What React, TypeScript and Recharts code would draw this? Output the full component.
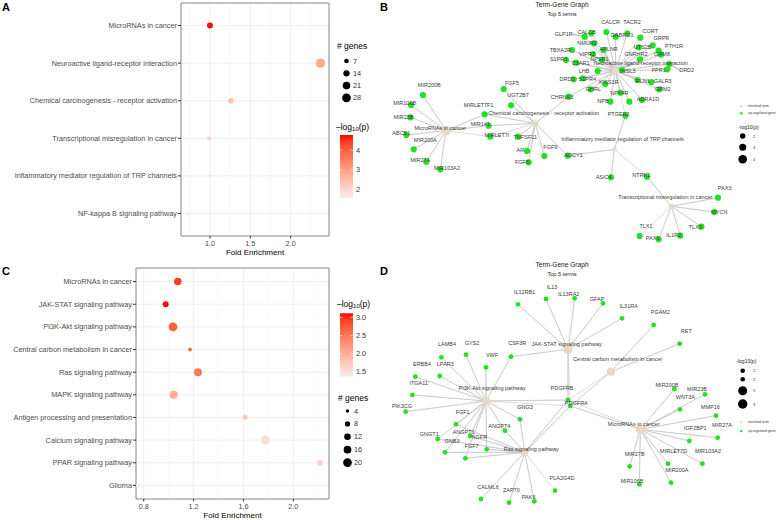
import { ScatterChart, Scatter, XAxis, YAxis, ZAxis, CartesianGrid, ReferenceLine, ReferenceArea, Cell } from 'recharts'

const FONT = '"Liberation Sans", Arial, sans-serif'
const GENE_GREEN = '#22e022'
const TERM_TAN = '#e6d9c5'
const LOW = '#f2eded'
const HIGH = '#ff0000'

// panel A: KEGG enrichment dot plot
const termsA = [
  'MicroRNAs in cancer',
  'Neuroactive ligand-receptor interaction',
  'Chemical carcinogenesis - receptor activation',
  'Transcriptional misregulation in cancer',
  'Inflammatory mediator regulation of TRP channels',
  'NF-kappa B signaling pathway',
]
const foldA = [1.0, 2.37, 1.26, 0.99, 1.0, 0.73]
const logPA = [4.75, 2.8, 2.35, 2.0, 1.65, 1.55]
const genesA = [13, 33, 11, 7, 4, 3]
const xTicksA = [1.0, 1.5, 2.0]
const xMinorA = [0.75, 1.25, 1.75, 2.25]
const sizeBreaksA = [7, 14, 21, 28]
const colorBreaksA = [2, 3, 4]

// panel C
const termsC = [
  'MicroRNAs in cancer',
  'JAK-STAT signaling pathway',
  'PI3K-Akt signaling pathway',
  'Central carbon metabolism in cancer',
  'Ras signaling pathway',
  'MAPK signaling pathway',
  'Antigen processing and presentation',
  'Calcium signaling pathway',
  'PPAR signaling pathway',
  'Glioma',
]
const foldC = [1.073, 0.976, 1.035, 1.171, 1.235, 1.04, 1.615, 1.773, 2.212, 0.75]
const logPC = [2.95, 3.1, 2.7, 2.6, 2.5, 2.0, 1.75, 1.55, 1.62, 1.4]
const genesC = [15, 10, 20, 5, 17, 18, 7, 22, 10, 4]
const xTicksC = [0.8, 1.2, 1.6, 2.0]
const xMinorC = [1.0, 1.4, 1.8, 2.2]
const sizeBreaksC = [4, 8, 12, 16, 20]
const colorBreaksC = [1.5, 2.0, 2.5, 3.0]

// panel B: term-gene network (layout units, 1176 x 780)
const hubB = [[162, 392], [670, 213], [430, 370], [838, 619], [667, 448]]
const hubLabelB = [[145, 383], [746, 188], [455, 340], [820, 590], [692, 418]]
const genesB: [string, number, number, number | null, number | null][] = [
  ['MIR200B', 93, 285, 112, 255], ['MIR106B', 57, 315, 38, 309], ['MIR23B', 55, 352, 35, 352],
  ['ABCB1', 43, 405, 28, 399], ['MIR200A', 65, 448, 100, 420], ['MIR27A', 103, 485, 85, 481],
  ['MIR103A2', 145, 508, 165, 504], ['MIRLET7F1', 278, 343, 260, 315], ['MIR141', 290, 377, 265, 372],
  ['MIRLET7I', 295, 410, 315, 404], ['FGF5', 335, 267, 360, 250], ['UGT2B7', 357, 316, 378, 286],
  ['CHRNA3', 530, 290, 510, 290], ['TNFSF11', 378, 410, 400, 412], ['AR', 405, 453, 385, 450],
  ['FGF8', 410, 487, 390, 485], ['FGF9', 457, 468, 475, 440], ['ADCY1', 527, 467, 545, 465],
  ['GLP1R', 578, 110, 515, 103], ['CALCB', 598, 100, 584, 97], ['CALCR', 643, 96, 656, 66],
  ['GABRG1', 671, 110, 690, 106], ['TACR2', 706, 100, 720, 67], ['CORT', 745, 113, 775, 92],
  ['GRPR', 782, 136, 808, 115], ['PTH1R', 800, 152, 846, 139], ['GRM8', 807, 164, 810, 163],
  ['UTS2B', 740, 142, 752, 140], ['GNRHR2', 744, 178, 732, 163], ['NMUR2', 606, 130, 585, 128],
  ['APLNR', 635, 150, 650, 147], ['TBXA2R', 540, 150, 505, 150], ['VIPR2', 603, 162, 585, 162],
  ['NPSR1', 630, 180, 622, 178], ['S1PR3', 522, 180, 500, 178], ['C3AR1', 552, 188, 566, 188],
  ['LHB', 617, 213, 576, 213], ['DRD5', 545, 238, 525, 238], ['S1PR4', 573, 235, 586, 238],
  ['INSL3', 690, 210, 708, 212], ['DRD2', 832, 192, 884, 210], ['FPR1', 826, 208, 800, 210],
  ['RLN1', 736, 240, 752, 243], ['GALR3', 778, 246, 812, 242], ['GRM2', 802, 268, 812, 268],
  ['KISS1R', 640, 252, 650, 246], ['GHRL', 596, 268, 604, 268], ['NPY4R', 685, 278, 682, 278],
  ['NPB', 655, 305, 633, 302], ['NPW', 712, 305, null, null], ['ADRA1D', 750, 300, 768, 298],
  ['PTGER2', 700, 347, 680, 342], ['ASIC4', 657, 532, 635, 530], ['NTRK1', 765, 530, 748, 525],
  ['PAX3', 978, 593, 998, 565], ['MYCN', 967, 636, 982, 635], ['TLX3', 928, 680, 910, 680],
  ['IL1R2', 865, 707, 845, 705], ['PAX5', 800, 718, 782, 713], ['TLX1', 743, 708, 762, 678],
]
const termGenesB = [
  ['MIR200B', 'MIR106B', 'MIR23B', 'ABCB1', 'MIR200A', 'MIR27A', 'MIR103A2', 'MIRLET7F1', 'MIR141', 'MIRLET7I'],
  ['GLP1R', 'CALCB', 'CALCR', 'GABRG1', 'TACR2', 'CORT', 'GRPR', 'PTH1R', 'GRM8', 'UTS2B', 'GNRHR2', 'NMUR2',
    'APLNR', 'TBXA2R', 'VIPR2', 'NPSR1', 'S1PR3', 'C3AR1', 'LHB', 'DRD5', 'S1PR4', 'INSL3', 'DRD2', 'FPR1',
    'RLN1', 'GALR3', 'GRM2', 'KISS1R', 'GHRL', 'NPY4R', 'NPB', 'NPW', 'ADRA1D', 'CHRNA3', 'PTGER2'],
  ['FGF5', 'UGT2B7', 'CHRNA3', 'TNFSF11', 'AR', 'FGF8', 'FGF9', 'ADCY1', 'MIRLET7F1', 'MIR141', 'MIRLET7I'],
  ['NTRK1', 'PAX3', 'MYCN', 'TLX3', 'IL1R2', 'PAX5', 'TLX1'],
  ['ADCY1', 'PTGER2', 'ASIC4', 'NTRK1'],
]
const leadersB = ['GLP1R', 'DRD2']

// panel D
const hubD = [[745, 508], [528, 268], [282, 423], [657, 335], [398, 577]]
const hubLabelD = [[725, 493], [524, 253], [300, 385], [677, 297], [418, 567]]
const genesD: [string, number, number, number | null, number | null][] = [
  ['IL12RB1', 378, 133, 398, 97], ['IL13', 462, 117, 480, 80], ['IL13RA2', 548, 115, 530, 103],
  ['GFAP', 633, 130, 615, 118], ['IL31RA', 690, 175, 710, 138], ['CSF3R', 357, 290, 376, 250],
  ['PDGFRB', 528, 420, 510, 385], ['PDGFRA', 535, 438, 553, 428], ['PGAM2', 785, 195, 805, 157],
  ['RET', 863, 251, 883, 213], ['LAMB4', 148, 292, 165, 253], ['GYS2', 222, 284, 240, 248],
  ['VWF', 282, 322, 300, 285], ['ERBB4', 70, 350, 90, 312], ['LPAR3', 143, 348, 160, 312],
  ['ITGA11', 61, 405, 80, 368], ['PIK3CG', 41, 455, 30, 438], ['FGF1', 192, 493, 212, 455],
  ['ANGPT1', 234, 528, 215, 515], ['NGFR', 284, 568, 262, 532], ['GNGT1', 137, 537, 112, 522],
  ['GNB3', 159, 577, 180, 543], ['FGF7', 220, 595, 239, 558], ['ANGPT4', 339, 512, 322, 498],
  ['GNG3', 384, 478, 399, 440], ['CALML6', 267, 717, 288, 680], ['ZAP70', 351, 728, 358, 690],
  ['PAK6', 427, 724, 410, 712], ['PLA2G4D', 489, 692, 510, 655], ['MIR200B', 847, 387, 825, 375],
  ['MIR23B', 939, 403, 915, 388], ['WNT3A', 864, 448, 880, 412], ['MMP16', 972, 467, 955, 440],
  ['MIR27A', 977, 533, 990, 495], ['IGF2BP1', 892, 543, 910, 505], ['MIR103A2', 931, 611, 948, 572],
  ['MIRLET7D', 828, 611, 845, 572], ['MIR200A', 837, 668, 855, 630], ['MIR27B', 713, 619, 728, 582],
  ['MIR106B', 742, 673, 720, 662],
]
const termGenesD = [
  ['MIR200B', 'MIR23B', 'WNT3A', 'MMP16', 'MIR27A', 'IGF2BP1', 'MIR103A2', 'MIRLET7D', 'MIR200A', 'MIR27B',
    'MIR106B', 'PDGFRA', 'PDGFRB'],
  ['IL12RB1', 'IL13', 'IL13RA2', 'GFAP', 'IL31RA', 'CSF3R', 'PDGFRB', 'PDGFRA'],
  ['LAMB4', 'GYS2', 'VWF', 'ERBB4', 'LPAR3', 'ITGA11', 'PIK3CG', 'CSF3R', 'FGF1', 'ANGPT1', 'NGFR', 'GNGT1',
    'GNB3', 'FGF7', 'ANGPT4', 'GNG3', 'PDGFRB', 'PDGFRA'],
  ['PGAM2', 'RET', 'PDGFRA', 'PDGFRB'],
  ['GNG3', 'ANGPT4', 'NGFR', 'FGF7', 'GNB3', 'GNGT1', 'FGF1', 'ANGPT1', 'PDGFRA', 'PDGFRB', 'CALML6', 'ZAP70',
    'PAK6', 'PLA2G4D'],
]

// colour ramp in Lab space, like ggplot's gradient
const hexRgb = (h: string) => [1, 3, 5].map((i) => parseInt(h.slice(i, i + 2), 16))
function toLab([r, g, b]: number[]) {
  const f = (c: number) => { c /= 255; return c <= 0.04045 ? c / 12.92 : Math.pow((c + 0.055) / 1.055, 2.4) }
  const R = f(r), G = f(g), B = f(b)
  const h = (t: number) => (t > 0.008856 ? Math.cbrt(t) : 7.787 * t + 16 / 116)
  const x = h((R * 0.4124 + G * 0.3576 + B * 0.1805) / 0.95047)
  const y = h(R * 0.2126 + G * 0.7152 + B * 0.0722)
  const z = h((R * 0.0193 + G * 0.1192 + B * 0.9505) / 1.08883)
  return [116 * y - 16, 500 * (x - y), 200 * (y - z)]
}
function fromLab([L, a, bb]: number[]) {
  const h = (t: number) => (t ** 3 > 0.008856 ? t ** 3 : (t - 16 / 116) / 7.787)
  const y0 = (L + 16) / 116
  const x = h(a / 500 + y0) * 0.95047, y = h(y0), z = h(y0 - bb / 200) * 1.08883
  const g = (c: number) => {
    c = c > 0.0031308 ? 1.055 * Math.pow(c, 1 / 2.4) - 0.055 : 12.92 * c
    return Math.round(Math.max(0, Math.min(1, c)) * 255)
  }
  return `rgb(${g(x * 3.2406 - y * 1.5372 - z * 0.4986)},${g(-x * 0.9689 + y * 1.8758 + z * 0.0415)},${g(x * 0.0557 - y * 0.204 + z * 1.057)})`
}
function ramp([lo, hi]: number[]) {
  const a = toLab(hexRgb(LOW)), b = toLab(hexRgb(HIGH))
  return (v: number) => {
    const t = Math.max(0, Math.min(1, (v - lo) / (hi - lo)))
    return fromLab(a.map((c, i) => c + (b[i] - c) * t))
  }
}
const areaOf = (z: number, dom: number[], rng: number[]) => rng[0] + ((z - dom[0]) / (dom[1] - dom[0])) * (rng[1] - rng[0])

function DotPlot({ terms, fold, logP, genes, xDomain, xTicks, xMinor, yWidth, top, xHeight, zDomain, zRange, cDomain }: any) {
  const rows = terms.map((term: string, i: number) => ({ term, row: i + 1, fold: fold[i], logP: logP[i], genes: genes[i] }))
  const color = ramp(cDomain)
  const yDomain = [0.4, terms.length + 0.6]
  return (
    <ScatterChart width={392} height={260} margin={{ top, right: 63, bottom: 0, left: 0 }}>
      <CartesianGrid stroke="#ebebeb" strokeWidth={0.8} />
      {xMinor.map((v: number) => <ReferenceLine key={v} x={v} stroke="#f2f2f2" strokeWidth={0.5} />)}
      <XAxis type="number" dataKey="fold" domain={xDomain} ticks={xTicks} allowDataOverflow interval={0}
        height={xHeight} axisLine={false} tickSize={2.5} tickMargin={1} tickLine={{ stroke: '#333' }}
        tick={(p: any) => (
          <text x={p.x} y={p.y + 3.5} textAnchor="middle" dominantBaseline="central" fontSize={7.3} fill="#4d4d4d">
            {Number(p.payload.value).toFixed(1)}
          </text>
        )} />
      <YAxis type="number" dataKey="row" domain={yDomain} reversed allowDataOverflow ticks={rows.map((r: any) => r.row)}
        interval={0} width={yWidth} axisLine={false} tickSize={3} tickMargin={1} tickLine={{ stroke: '#333' }}
        tick={(p: any) => (
          <text x={p.x} y={p.y} textAnchor="end" dominantBaseline="central" fontSize={7.3} fill="#4d4d4d">
            {terms[p.payload.value - 1]}
          </text>
        )} />
      <ZAxis type="number" dataKey="genes" domain={zDomain} range={zRange} />
      <ReferenceArea x1={xDomain[0]} x2={xDomain[1]} y1={yDomain[0]} y2={yDomain[1]} fill="none" stroke="#8c8c8c" strokeWidth={1} ifOverflow="visible" />
      <Scatter data={rows} isAnimationActive={false}>
        {rows.map((r: any) => <Cell key={r.term} fill={color(r.logP)} />)}
      </Scatter>
    </ScatterChart>
  )
}

function Network({ terms, hubs, hubLabels, logP, genes, termGenes, geneR, zDomain, zRange, leaders }: any) {
  const nodes = new Map<string, any>(genes.map(([name, x, y]: any) => [name, { name, x, y }]))
  const hubPts = terms.map((name: string, i: number) => ({ name, x: hubs[i][0], y: hubs[i][1], logP: logP[i] }))
  const labels = [
    ...terms.map((name: string, i: number) => ({ name, x: hubLabels[i][0], y: hubLabels[i][1] })),
    ...genes.filter((g: any) => g[3] != null).map(([name, , , lx, ly]: any) => ({ name, x: lx, y: ly })),
  ]
  const leaderSegs = leaders.map((name: string) => {
    const g = genes.find((x: any) => x[0] === name)
    const dir = Math.sign(g[1] - g[3])
    return [{ x: g[3] + dir * name.length * 5.4, y: g[4] }, { x: g[1], y: g[2] }]
  })
  const none = () => <g />
  return (
    <ScatterChart width={392} height={260} margin={{ top: 0, right: 0, bottom: 0, left: 0 }}>
      <XAxis type="number" dataKey="x" domain={[0, 1176]} hide allowDataOverflow />
      <YAxis type="number" dataKey="y" domain={[0, 780]} reversed hide allowDataOverflow />
      <ZAxis type="number" dataKey="logP" domain={zDomain} range={zRange} />
      {hubPts.map((h: any, i: number) => (
        <Scatter key={h.name} data={termGenes[i].flatMap((g: string) => [h, nodes.get(g)])}
          line={{ stroke: '#c4c4c4', strokeWidth: 0.6 }} shape={none} isAnimationActive={false} />
      ))}
      {leaderSegs.map((seg: any, i: number) => (
        <Scatter key={'lead' + i} data={seg} line={{ stroke: '#555', strokeWidth: 0.5 }} shape={none} isAnimationActive={false} />
      ))}
      <Scatter data={[...nodes.values()]} isAnimationActive={false}
        shape={(p: any) => <circle cx={p.cx} cy={p.cy} r={geneR} fill={GENE_GREEN} />} />
      <Scatter data={hubPts} fill={TERM_TAN} isAnimationActive={false} />
      <Scatter data={labels} isAnimationActive={false}
        shape={(p: any) => (
          <text x={p.cx} y={p.cy} textAnchor="middle" dominantBaseline="central" fontSize={5.5} fill="#3a3a3a">
            {p.payload.name}
          </text>
        )} />
    </ScatterChart>
  )
}

function LogTitle({ x, y }: { x: number; y: number }) {
  return (
    <text x={x} y={y} fontSize={8.5} dominantBaseline="central" fill="#000">
      –log<tspan fontSize={6} dy={2}>10</tspan><tspan dy={-2}>(p)</tspan>
    </text>
  )
}

function SizeLegend({ x, y, first, step, breaks, zDomain, zRange }: any) {
  return (
    <g>
      <text x={x} y={y} fontSize={8.5} dominantBaseline="central" fill="#000"># genes</text>
      {breaks.map((b: number, i: number) => {
        const cy = first + i * step
        return (
          <g key={b}>
            <circle cx={x + 9.5} cy={cy} r={Math.sqrt(areaOf(b, zDomain, zRange) / Math.PI)} fill="#000" />
            <text x={x + 16} y={cy} fontSize={7.3} dominantBaseline="central" fill="#333">{b}</text>
          </g>
        )
      })}
    </g>
  )
}

function ColorBar({ id, x, y, h, domain, breaks, fmt }: any) {
  const color = ramp(domain)
  const yOf = (v: number) => y + h - ((v - domain[0]) / (domain[1] - domain[0])) * h
  return (
    <g>
      <defs>
        <linearGradient id={id} x1="0" y1="1" x2="0" y2="0">
          {Array.from({ length: 11 }, (_, k) => (
            <stop key={k} offset={k / 10} stopColor={color(domain[0] + ((domain[1] - domain[0]) * k) / 10)} />
          ))}
        </linearGradient>
      </defs>
      <rect x={x} y={y} width={13} height={h} fill={`url(#${id})`} />
      {breaks.map((b: number) => (
        <g key={b}>
          <line x1={x} x2={x + 2.6} y1={yOf(b)} y2={yOf(b)} stroke="#fff" strokeWidth={0.6} />
          <line x1={x + 10.4} x2={x + 13} y1={yOf(b)} y2={yOf(b)} stroke="#fff" strokeWidth={0.6} />
          <text x={x + 16} y={yOf(b)} fontSize={7.3} dominantBaseline="central" fill="#333">{fmt(b)}</text>
        </g>
      ))}
    </g>
  )
}

function NetLegend({ titleX, titleY, dotYs, dotRs, dotLabels, keyYs }: any) {
  return (
    <g>
      <circle cx={349.3} cy={keyYs[0]} r={1.2} fill={TERM_TAN} />
      <text x={356} y={keyYs[0]} fontSize={3.4} dominantBaseline="central" fill="#333">enriched term</text>
      <circle cx={349.3} cy={keyYs[1]} r={1.2} fill={GENE_GREEN} />
      <text x={356} y={keyYs[1]} fontSize={3.4} dominantBaseline="central" fill="#333">up-regulated gene</text>
      <text x={titleX} y={titleY} fontSize={5} dominantBaseline="central" fill="#222">-log10(p)</text>
      {dotYs.map((cy: number, i: number) => (
        <g key={i}>
          <circle cx={350.7} cy={cy} r={dotRs[i]} fill="#000" />
          <text x={361} y={cy} fontSize={4} dominantBaseline="central" fill="#333">{dotLabels[i]}</text>
        </g>
      ))}
    </g>
  )
}

function GraphTitle() {
  return (
    <g>
      <text x={170} y={4.5} fontSize={6.6} textAnchor="middle" dominantBaseline="central" fill="#222">Term-Gene Graph</text>
      <text x={170} y={13.5} fontSize={5.6} textAnchor="middle" dominantBaseline="central" fill="#222">Top 5 terms</text>
    </g>
  )
}

const zDomA = [0, 32], zRngA = [3.3, 67.3]
const zDomC = [1.1, 22.1], zRngC = [0, 66]
const cDomA = [1.56, 4.78], cDomC = [1.37, 3.11]

export default function App() {
  const letter = { fontSize: 11, fontWeight: 700, fill: '#000' }
  const axisTitle = { fontSize: 8, fill: '#000', textAnchor: 'middle' as const, dominantBaseline: 'central' as const }
  return (
    <div style={{ position: 'absolute', left: 0, top: 0, width: 784, height: 520, overflow: 'hidden', background: '#fff', fontFamily: FONT }}>
      <div style={{ position: 'absolute', left: 0, top: 0 }}>
        <DotPlot terms={termsA} fold={foldA} logP={logPA} genes={genesA} xDomain={[0.641, 2.475]} xTicks={xTicksA}
          xMinor={xMinorA} yWidth={181} top={3} xHeight={24} zDomain={zDomA} zRange={zRngA} cDomain={cDomA} />
      </div>
      <div style={{ position: 'absolute', left: 0, top: 260 }}>
        <DotPlot terms={termsC} fold={foldC} logP={logPC} genes={genesC} xDomain={[0.738, 2.286]} xTicks={xTicksC}
          xMinor={xMinorC} yWidth={136} top={8} xHeight={21} zDomain={zDomC} zRange={zRngC} cDomain={cDomC} />
      </div>
      <div style={{ position: 'absolute', left: 392, top: 0 }}>
        <Network terms={termsA.slice(0, 5)} hubs={hubB} hubLabels={hubLabelB} logP={logPA.slice(0, 5)} genes={genesB}
          termGenes={termGenesB} geneR={3.1} zDomain={[0.7, 5]} zRange={[0, 75.5]} leaders={leadersB} />
      </div>
      <div style={{ position: 'absolute', left: 392, top: 260 }}>
        <Network terms={termsC.slice(0, 5)} hubs={hubD} hubLabels={hubLabelD} logP={logPC.slice(0, 5)} genes={genesD}
          termGenes={termGenesD} geneR={2.4} zDomain={[2.0, 3.2]} zRange={[30, 75]} leaders={[]} />
      </div>
      <svg width={784} height={520} style={{ position: 'absolute', left: 0, top: 0, pointerEvents: 'none' }}>
        <text x={2} y={11} {...letter}>A</text>
        <text x={380} y={11} {...letter}>B</text>
        <text x={2} y={275} {...letter}>C</text>
        <text x={380} y={275} {...letter}>D</text>

        <text x={255} y={252.3} {...axisTitle}>Fold Enrichment</text>
        <text x={232.5} y={515.5} {...axisTitle}>Fold Enrichment</text>

        <SizeLegend x={337} y={46} first={61} step={12.3} breaks={sizeBreaksA} zDomain={zDomA} zRange={zRngA} />
        <LogTitle x={336} y={127} />
        <ColorBar id="cbA" x={340} y={135} h={63} domain={cDomA} breaks={colorBreaksA} fmt={(v: number) => String(v)} />

        <LogTitle x={337} y={304} />
        <ColorBar id="cbC" x={340} y={313.3} h={63.4} domain={cDomC} breaks={colorBreaksC} fmt={(v: number) => v.toFixed(1)} />
        <SizeLegend x={338} y={397.7} first={411} step={12.9} breaks={sizeBreaksC} zDomain={zDomC} zRange={zRngC} />

        <g transform="translate(392,0)">
          <GraphTitle />
          <NetLegend titleX={346.7} titleY={126.7} dotYs={[136, 147.3, 159.3]} dotRs={[2.7, 3.5, 4.3]}
            dotLabels={['2', '3', '4']} keyYs={[106.3, 113.3]} />
        </g>
        <g transform="translate(392,260)">
          <GraphTitle />
          <NetLegend titleX={344.3} titleY={100.7} dotYs={[110.7, 119.3, 130.7, 144]} dotRs={[2.3, 2.3, 4.5, 4.7]}
            dotLabels={['2', '2', '3', '3']} keyYs={[162.3, 171]} />
        </g>
      </svg>
    </div>
  )
}
